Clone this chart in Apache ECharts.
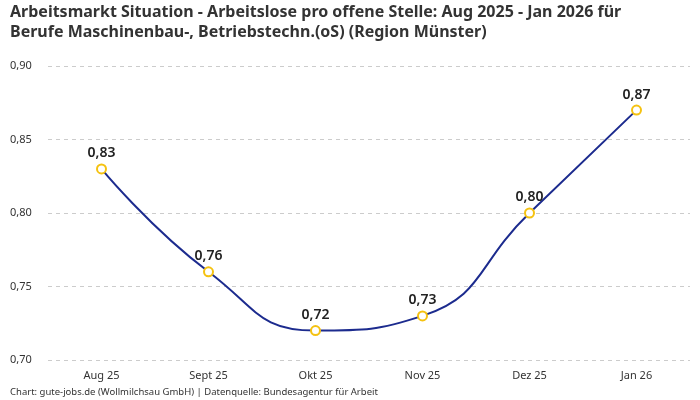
<!DOCTYPE html>
<html><head><meta charset="utf-8">
<script src="https://cdn.jsdelivr.net/npm/echarts@6/dist/echarts.min.js"></script>
<style>html,body{margin:0;padding:0;background:#fff}#c{width:700px;height:400px}</style>
</head><body><div id="c"></div>
<script>
const categories = ['Aug 25','Sept 25','Okt 25','Nov 25','Dez 25','Jan 26'];
const values = [0.83, 0.76, 0.72, 0.73, 0.80, 0.87];
const titleText = 'Arbeitsmarkt Situation - Arbeitslose pro offene Stelle: Aug 2025 - Jan 2026 für\nBerufe Maschinenbau-, Betriebstechn.(oS) (Region Münster)';
const footerText = 'Chart: gute-jobs.de (Wollmilchsau GmbH) | Datenquelle: Bundesagentur für Arbeit';
const fmt = v => v.toFixed(2).replace('.', ',');
const font = '"Noto Sans", "DejaVu Sans", sans-serif';
const chart = echarts.init(document.getElementById('c'));
chart.setOption({
  animation: false,
  textStyle: {fontFamily: font},
  title: [{
    text: titleText, left: 10, top: 2, padding: 0,
    textStyle: {fontSize: 16, fontWeight: 'bold', color: '#333', lineHeight: 20, fontFamily: font}
  }, {
    text: footerText, left: 10, top: 387, padding: 0,
    textStyle: {fontSize: 9.5, fontWeight: 'normal', color: '#333', fontFamily: font}
  }],
  grid: {left: 48, right: 10, top: 66, bottom: 40},
  xAxis: {
    type: 'category', data: categories, boundaryGap: true,
    axisLine: {show: false}, axisTick: {show: false},
    axisLabel: {color: '#333', fontSize: 11, margin: 10}
  },
  yAxis: {
    type: 'value', min: 0.70, max: 0.90, interval: 0.05,
    axisLabel: {formatter: v => fmt(v), color: '#333', fontSize: 11, margin: 38, align: 'left'},
    axisLine: {show: false}, axisTick: {show: false},
    splitLine: {lineStyle: {type: [4, 4], color: '#ccc'}}
  },
  series: [{
    type: 'line', data: values, smooth: 0.5,
    lineStyle: {color: '#1c2b8e', width: 2},
    itemStyle: {color: '#fff', borderColor: '#f5c211', borderWidth: 2},
    symbol: 'circle', symbolSize: 9,
    label: {show: true, position: 'top', formatter: p => fmt(p.value), fontSize: 14, fontWeight: 600, color: '#222', distance: 3}
  }]
});
</script></body></html>
